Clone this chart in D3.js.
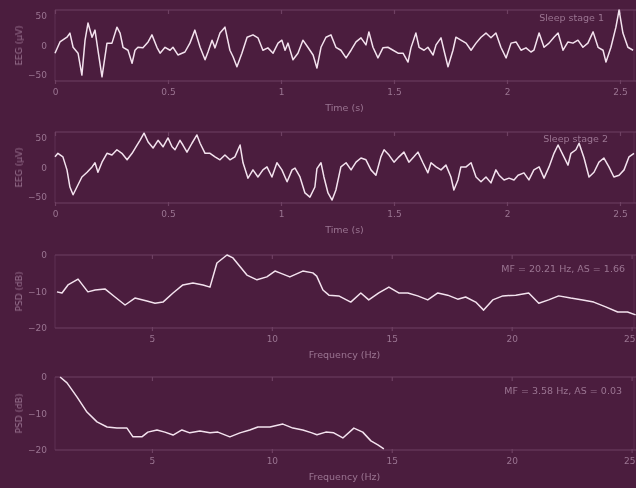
<!DOCTYPE html>
<html>
<head>
<meta charset="utf-8">
<script src="https://cdn.jsdelivr.net/npm/d3@7"></script>
<style>
  html, body { margin: 0; padding: 0; background: #4b1d3e; }
  svg { display: block; }
  text { font-family: "DejaVu Sans", "Liberation Sans", sans-serif; }
</style>
</head>
<body>
<svg id="chart" width="636" height="488"></svg>
<script>
// EEG epoch, sleep stage 1 (time in s, amplitude in µV)
const stage1Time = [0.000,0.022,0.053,0.066,0.080,0.102,0.119,0.133,0.146,0.164,0.177,0.190,0.208,0.230,0.252,0.274,0.288,0.301,0.323,0.341,0.354,0.367,0.389,0.412,0.429,0.451,0.465,0.487,0.509,0.522,0.544,0.575,0.597,0.619,0.642,0.664,0.677,0.695,0.708,0.730,0.752,0.774,0.788,0.805,0.827,0.850,0.876,0.898,0.920,0.942,0.965,0.987,1.004,1.018,1.031,1.053,1.075,1.097,1.119,1.142,1.159,1.177,1.199,1.221,1.243,1.265,1.288,1.310,1.332,1.354,1.376,1.389,1.407,1.429,1.451,1.473,1.496,1.518,1.540,1.562,1.575,1.597,1.611,1.633,1.650,1.673,1.686,1.708,1.721,1.739,1.761,1.774,1.796,1.819,1.841,1.863,1.885,1.907,1.929,1.951,1.973,1.996,2.018,2.040,2.062,2.084,2.106,2.119,2.142,2.164,2.186,2.208,2.226,2.248,2.270,2.292,2.314,2.336,2.358,2.381,2.403,2.425,2.438,2.460,2.482,2.496,2.513,2.535,2.558];
const stage1Amp  = [-13,6,14,21,-3,-13,-50,9,38,14,26,-8,-53,4,4,31,21,-3,-8,-30,-8,-3,-4,6,18,-3,-13,-3,-8,-3,-16,-11,4,26,-3,-24,-11,9,-4,21,31,-8,-19,-36,-13,14,18,13,-8,-4,-13,4,9,-8,4,-24,-13,9,-3,-16,-38,-3,14,18,-3,-8,-21,-8,6,13,1,23,-3,-21,-4,-3,-8,-13,-13,-28,-4,21,-3,-8,-3,-16,1,13,-8,-36,-8,14,9,4,-8,4,14,21,13,21,-3,-21,4,6,-8,-4,-11,-8,21,-3,4,14,21,-8,6,4,9,-3,4,23,-3,-8,-28,-3,31,60,21,-3,-8];

// EEG epoch, sleep stage 2
const stage2Time = [0.000,0.013,0.035,0.053,0.066,0.080,0.097,0.119,0.142,0.164,0.177,0.190,0.208,0.230,0.252,0.274,0.296,0.319,0.341,0.363,0.376,0.394,0.412,0.434,0.456,0.478,0.500,0.518,0.531,0.553,0.566,0.584,0.606,0.628,0.642,0.664,0.686,0.708,0.730,0.752,0.774,0.796,0.819,0.832,0.854,0.876,0.898,0.920,0.938,0.960,0.982,1.004,1.027,1.049,1.062,1.084,1.106,1.128,1.150,1.159,1.177,1.190,1.208,1.226,1.243,1.265,1.288,1.310,1.332,1.354,1.376,1.398,1.420,1.442,1.456,1.478,1.500,1.522,1.544,1.566,1.588,1.606,1.628,1.650,1.664,1.686,1.708,1.730,1.752,1.765,1.783,1.796,1.819,1.841,1.863,1.885,1.907,1.929,1.951,1.965,1.987,2.009,2.031,2.049,2.075,2.097,2.119,2.142,2.164,2.186,2.208,2.226,2.248,2.270,2.283,2.305,2.319,2.341,2.363,2.385,2.407,2.429,2.451,2.473,2.496,2.518,2.540,2.562];
const stage2Amp  = [18,24,18,-4,-33,-46,-33,-16,-8,1,8,-8,9,24,21,30,24,13,24,38,46,58,43,33,46,35,50,35,30,46,38,26,41,55,41,24,24,18,13,21,13,18,38,8,-18,-4,-16,-4,1,-16,8,-4,-24,-4,-1,-16,-43,-50,-33,-2,8,-16,-43,-55,-38,1,8,-4,9,16,13,-4,-13,18,30,21,9,18,26,9,18,26,8,-9,8,1,-4,4,-16,-38,-21,1,1,8,-16,-24,-16,-26,-4,-13,-21,-18,-21,-13,-9,-21,-4,1,-18,1,24,38,21,4,24,30,41,16,-16,-8,9,16,1,-16,-13,-4,18,24];

// Normalised power spectral densities (frequency in Hz, power in dB)
const psd1Freq = [1.04,1.25,1.50,1.92,2.33,2.63,3.04,3.46,3.88,4.29,4.79,5.13,5.46,5.88,6.29,6.71,7.13,7.42,7.71,8.13,8.38,8.96,9.38,9.79,10.13,10.33,10.75,11.29,11.71,11.87,12.13,12.38,12.79,13.29,13.71,14.04,14.46,14.88,15.29,15.67,16.08,16.50,16.92,17.33,17.75,18.08,18.50,18.83,19.21,19.63,20.17,20.71,21.13,21.54,21.96,22.46,22.96,23.42,23.92,24.42,24.83,25.17];
const psd1Db   = [-10.1,-10.4,-8.2,-6.6,-10.1,-9.6,-9.3,-11.5,-13.7,-11.8,-12.6,-13.2,-12.9,-10.4,-8.2,-7.7,-8.2,-8.8,-2.2,0,-0.8,-5.5,-6.8,-6.0,-4.4,-4.9,-6.0,-4.4,-4.9,-5.8,-9.6,-11.0,-11.2,-12.9,-10.4,-12.3,-10.4,-8.8,-10.4,-10.4,-11.2,-12.3,-10.4,-11.0,-12.1,-11.5,-12.9,-15.1,-12.3,-11.2,-11.0,-10.4,-13.2,-12.3,-11.2,-11.8,-12.3,-12.9,-14.2,-15.6,-15.6,-16.4];
const psd2Freq = [1.17,1.46,1.88,2.29,2.71,3.13,3.54,3.96,4.21,4.58,4.83,5.21,5.54,5.88,6.25,6.58,7.00,7.42,7.75,8.25,8.67,9.08,9.42,9.92,10.46,10.88,11.29,11.67,11.88,12.25,12.58,12.96,13.42,13.79,14.13,14.42,14.67];
const psd2Db   = [0,-1.6,-5.5,-9.6,-12.3,-13.7,-14.0,-14.0,-16.4,-16.4,-15.1,-14.5,-15.1,-15.9,-14.5,-15.3,-14.8,-15.3,-15.1,-16.4,-15.3,-14.5,-13.7,-13.7,-12.9,-14.0,-14.5,-15.3,-15.8,-15.1,-15.3,-16.7,-14.0,-15.1,-17.5,-18.6,-19.7];

// Axis ticks and annotations
const timeTicks = [0, 0.5, 1, 1.5, 2, 2.5];
const eegTicks = [-50, 0, 50];
const freqTicks = [5, 10, 15, 20, 25];
const dbTicks = [-20, -10, 0];
const stageLabels = ["Sleep stage 1", "Sleep stage 2"];
const psdNotes = ["MF = 20.21 Hz, AS = 1.66", "MF = 3.58 Hz, AS = 0.03"];

const svg = d3.select("#chart");
const W = 636, H = 488;
const left = 55, right = 634;

const defs = svg.append("defs");
defs.append("filter").attr("id", "soft").attr("x", "-5%").attr("y", "-20%").attr("width", "110%").attr("height", "140%")
  .append("feGaussianBlur").attr("stdDeviation", 0.55);
defs.append("filter").attr("id", "softText")
  .append("feGaussianBlur").attr("stdDeviation", 0.45);

svg.append("rect").attr("width", W).attr("height", H).attr("fill", "#4b1d3e");

const frameColor = "#6e4062";
const textColor = "#9a7491";
const lineColor = "#f3e2ee";

const panels = [
  { top: 10,  bottom: 81,  xs: d3.scaleLinear([0, 2.562], [left, right]), ys: d3.scaleLinear([-60, 60], [81, 10]),
    xTicks: timeTicks, yTicks: eegTicks, xFmt: d3.format("~g"), xTitle: "Time (s)", yTitle: "EEG (\u00b5V)",
    xs_: stage1Time, vs: stage1Amp, note: stageLabels[0], noteX: 604, noteY: 21 },
  { top: 132, bottom: 203, xs: d3.scaleLinear([0, 2.562], [left, right]), ys: d3.scaleLinear([-60, 60], [203, 132]),
    xTicks: timeTicks, yTicks: eegTicks, xFmt: d3.format("~g"), xTitle: "Time (s)", yTitle: "EEG (\u00b5V)",
    xs_: stage2Time, vs: stage2Amp, note: stageLabels[1], noteX: 608, noteY: 142 },
  { top: 255, bottom: 328, xs: d3.scaleLinear([1, 25.1], [56, right]), ys: d3.scaleLinear([-20, 0], [328, 255]),
    xTicks: freqTicks, yTicks: dbTicks, xFmt: d3.format("d"), xTitle: "Frequency (Hz)", yTitle: "PSD (dB)",
    xs_: psd1Freq, vs: psd1Db, note: psdNotes[0], noteX: 625, noteY: 272 },
  { top: 377, bottom: 450, xs: d3.scaleLinear([1, 25.1], [56, right]), ys: d3.scaleLinear([-20, 0], [450, 377]),
    xTicks: freqTicks, yTicks: dbTicks, xFmt: d3.format("d"), xTitle: "Frequency (Hz)", yTitle: "PSD (dB)",
    xs_: psd2Freq, vs: psd2Db, note: psdNotes[1], noteX: 622, noteY: 394 }
];

panels.forEach(p => {
  const g = svg.append("g");

  // frame: top and bottom spines brighter, sides faint
  g.append("line").attr("x1", left).attr("x2", W).attr("y1", p.top).attr("y2", p.top)
    .attr("stroke", frameColor).attr("stroke-width", 1);
  g.append("line").attr("x1", left).attr("x2", W).attr("y1", p.bottom).attr("y2", p.bottom)
    .attr("stroke", frameColor).attr("stroke-width", 1);
  g.append("line").attr("x1", left).attr("x2", left).attr("y1", p.top).attr("y2", p.bottom)
    .attr("stroke", frameColor).attr("stroke-opacity", 0.55);
  g.append("line").attr("x1", right).attr("x2", right).attr("y1", p.top).attr("y2", p.bottom)
    .attr("stroke", frameColor).attr("stroke-opacity", 0.45);

  // x axis (ticks + labels)
  const xAxis = d3.axisBottom(p.xs).tickValues(p.xTicks).tickFormat(p.xFmt).tickSize(4).tickPadding(5);
  const xg = g.append("g").attr("transform", `translate(0,${p.bottom - 1})`).call(xAxis);
  xg.select(".domain").remove();
  xg.selectAll(".tick line").attr("stroke", frameColor).attr("stroke-width", 1.2);
  xg.selectAll(".tick text").attr("fill", textColor).attr("font-size", 9).attr("filter", "url(#softText)");
  // keep a label that sits at the right edge inside the page
  xg.selectAll(".tick").filter(d => p.xs(d) > W - 8).select("text")
    .attr("text-anchor", "end").attr("x", W - 1 - p.xs(p.xTicks[p.xTicks.length - 1]));

  // small ticks on the top spine
  const xTop = d3.axisBottom(p.xs).tickValues(p.xTicks).tickFormat("").tickSize(4);
  const xtg = g.append("g").attr("transform", `translate(0,${p.top})`).call(xTop);
  xtg.select(".domain").remove();
  xtg.selectAll(".tick line").attr("stroke", frameColor).attr("stroke-width", 1.2);

  // y axis labels
  const yAxis = d3.axisLeft(p.ys).tickValues(p.yTicks).tickFormat(d3.format("d")).tickSize(0).tickPadding(8);
  const yg = g.append("g").attr("transform", `translate(${left},0)`).call(yAxis);
  yg.select(".domain").remove();
  yg.selectAll(".tick text").attr("fill", textColor).attr("font-size", 9).attr("filter", "url(#softText)");

  // axis titles
  g.append("text").attr("x", (left + right) / 2).attr("y", p.bottom + 30)
    .attr("text-anchor", "middle").attr("font-size", 9.5).attr("fill", textColor)
    .attr("filter", "url(#softText)").text(p.xTitle);
  g.append("text").attr("transform", `translate(22,${(p.top + p.bottom) / 2}) rotate(-90)`)
    .attr("text-anchor", "middle").attr("font-size", 9).attr("fill", textColor)
    .attr("filter", "url(#softText)").text(p.yTitle);

  // annotation in the upper right
  g.append("text").attr("x", p.noteX).attr("y", p.noteY).attr("text-anchor", "end")
    .attr("font-size", 9.5).attr("fill", textColor).attr("filter", "url(#softText)").text(p.note);

  // trace
  const pts = p.xs_.map((x, i) => [x, p.vs[i]]);
  const line = d3.line().x(d => p.xs(d[0])).y(d => p.ys(d[1]));
  g.append("path").datum(pts).attr("d", line)
    .attr("fill", "none").attr("stroke", lineColor).attr("stroke-width", 1.5)
    .attr("stroke-linejoin", "round").attr("filter", "url(#soft)");
});
</script>
</body>
</html>
